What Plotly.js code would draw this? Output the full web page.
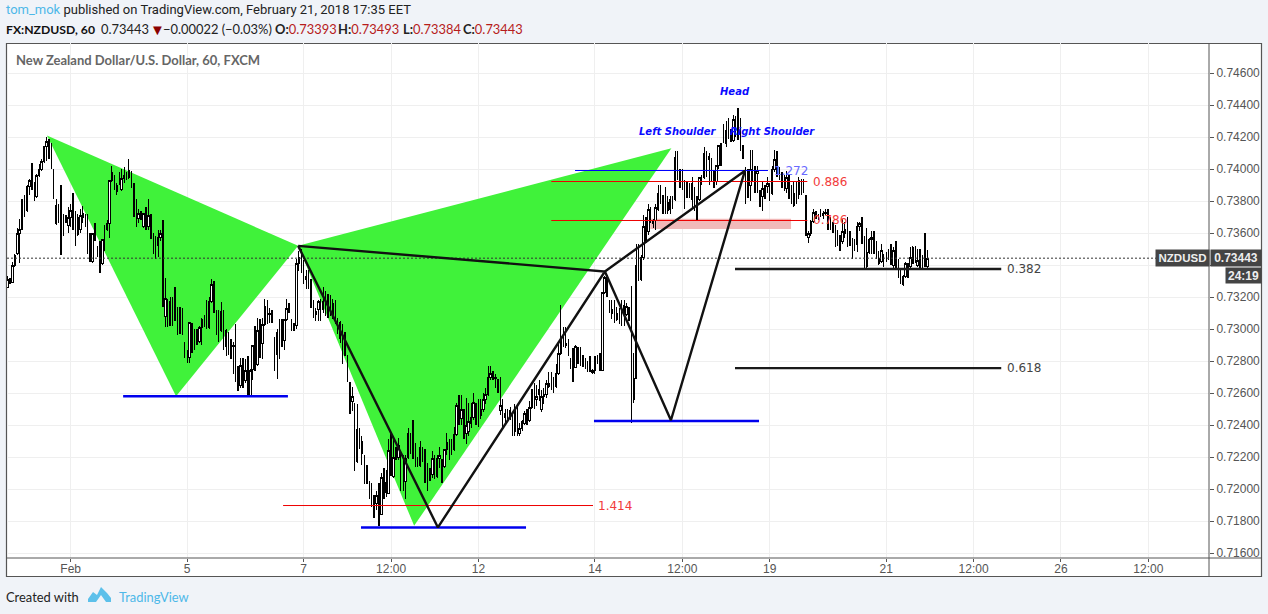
<!DOCTYPE html>
<html>
<head>
<meta charset="utf-8">
<script src="https://cdn.plot.ly/plotly-3.0.1.min.js"></script>
<style>html,body{margin:0;padding:0;background:#f0f3f8;overflow:hidden}#c{width:1268px;height:614px}#logo{position:absolute;left:87px;top:586px}
.ohlclayer path,.boxlayer path{shape-rendering:crispEdges}</style>
</head>
<body>
<div id="c"></div>
<svg id="logo" width="25" height="18" viewBox="0 0 25 18"><path d="M1 16 L1 13 L6 6 L10 9 L14 1 L20 7 L24 12 L24 16 L19 16 L14 9 L9 16 Z" fill="#5cc0ea"/></svg>
<script>
// Hourly bars, prices in 1/10000 (pips)
const opens=[
7326,7331,7329,7340,7347,7360,7362,7381,7374,7389,
7393,7388,7383,7396,7400,7405,7414,7417,7410,7400,
7366,7377,7375,7370,7370,7365,7370,7374,7364,7359,
7362,7370,7372,7366,7358,7342,7360,7351,7350,7341,
7360,7362,7366,7393,7396,7386,7398,7387,7394,7396,
7395,7399,7389,7372,7369,7372,7364,7372,7364,7371,
7358,7350,7352,7357,7360,7308,7319,7302,7317,7312,
7308,7310,7309,7292,7284,7282,7304,7298,7298,7292,
7301,7306,7304,7301,7317,7328,7312,7308,7299,7311,
7289,7298,7289,7289,7293,7276,7265,7276,7268,7276,
7258,7275,7290,7278,7299,7291,7303,7314,7309,7310,
7295,7284,7298,7300,7293,7306,7313,7306,7304,7302,
7341,7345,7340,7331,7337,7331,7315,7309,7312,7317,
7312,7322,7320,7320,7307,7316,7306,7294,7303,7296,
7284,7267,7255,7254,7217,7237,7222,7221,7215,7205,
7204,7196,7191,7204,7184,7213,7198,7197,7224,7208,
7226,7220,7222,7220,7205,7220,7235,7243,7229,7220,
7215,7226,7225,7216,7213,7209,7219,7208,7219,7219,
7214,7225,7229,7229,7225,7234,7259,7244,7250,7235,
7236,7241,7245,7254,7256,7246,7250,7256,7259,7270,
7274,7269,7269,7249,7252,7245,7247,7245,7247,7236,
7253,7235,7238,7241,7247,7243,7251,7266,7256,7259,
7250,7258,7259,7264,7273,7269,7264,7272,7285,7301,
7290,7294,7282,7288,7276,7289,7289,7283,7282,7280,
7283,7273,7274,7283,7285,7274,7323,7334,7318,7310,
7318,7306,7310,7318,7309,7309,7314,7327,7256,7269,
7345,7331,7345,7364,7361,7375,7366,7368,7375,7384,
7380,7389,7374,7375,7382,7381,7411,7400,7400,7393,
7392,7391,7381,7389,7383,7381,7395,7395,7410,7406,
7407,7398,7392,7402,7415,7428,7416,7432,7424,7418,
7431,7438,7432,7415,7401,7399,7390,7412,7402,7397,
7385,7383,7388,7389,7391,7385,7400,7411,7400,7398,
7396,7388,7397,7388,7377,7392,7384,7394,7390,7384,
7357,7360,7367,7374,7372,7375,7371,7372,7375,7370,
7366,7365,7361,7359,7355,7360,7370,7360,7357,7356,
7353,7364,7370,7358,7339,7348,7356,7361,7355,7341,
7342,7347,7345,7348,7353,7340,7355,7344,7337,7328,
7333,7341,7339,7341,7352,7340,7350,7341,7349,7339.3];
const highs=[
7333,7332,7342,7347,7363,7369,7381,7384,7390,7394,
7404,7392,7397,7403,7406,7414,7420,7419,7416,7400,
7381,7378,7390,7372,7371,7376,7378,7385,7374,7372,
7375,7377,7372,7372,7360,7360,7366,7352,7355,7356,
7365,7368,7393,7402,7396,7391,7398,7400,7401,7398,
7406,7399,7391,7381,7375,7374,7372,7376,7381,7372,
7360,7358,7362,7362,7368,7332,7319,7320,7320,7326,
7314,7314,7313,7292,7287,7304,7304,7300,7300,7302,
7307,7309,7318,7320,7331,7330,7312,7312,7317,7312,
7300,7298,7294,7292,7303,7277,7282,7282,7281,7283,
7275,7290,7302,7307,7306,7307,7319,7318,7313,7312,
7295,7300,7306,7306,7306,7319,7316,7306,7304,7344,
7349,7350,7343,7337,7337,7331,7318,7313,7318,7319,
7326,7324,7322,7321,7319,7318,7307,7305,7303,7298,
7284,7267,7264,7254,7253,7238,7233,7221,7215,7205,
7204,7196,7199,7204,7210,7213,7212,7231,7235,7233,
7226,7232,7222,7221,7221,7238,7235,7243,7229,7220,
7230,7226,7225,7216,7213,7224,7221,7221,7226,7219,
7225,7235,7231,7231,7239,7254,7259,7259,7250,7257,
7254,7254,7260,7254,7256,7256,7260,7263,7277,7277,
7274,7272,7269,7270,7256,7250,7250,7251,7247,7253,
7253,7241,7243,7249,7250,7255,7262,7266,7265,7268,
7262,7263,7268,7273,7273,7270,7278,7291,7315,7301,
7301,7294,7282,7288,7290,7289,7289,7284,7282,7280,
7283,7275,7283,7284,7285,7323,7333,7334,7318,7318,
7318,7314,7313,7318,7318,7316,7314,7327,7285,7353,
7353,7346,7371,7370,7378,7376,7369,7378,7390,7390,
7384,7389,7383,7383,7383,7411,7411,7400,7400,7393,
7392,7391,7395,7389,7383,7395,7396,7414,7411,7410,
7407,7399,7402,7415,7416,7428,7430,7432,7425,7434,
7433,7438,7432,7415,7401,7400,7412,7412,7402,7402,
7387,7392,7390,7395,7391,7402,7412,7411,7401,7398,
7396,7399,7397,7390,7392,7392,7395,7394,7394,7384,
7361,7368,7375,7374,7372,7375,7374,7375,7375,7370,
7367,7365,7362,7359,7369,7367,7370,7361,7357,7356,
7367,7367,7370,7358,7363,7357,7361,7361,7355,7349,
7353,7347,7348,7350,7353,7351,7355,7344,7337,7334,
7342,7341,7351,7352,7352,7350,7350,7346,7360,7349.3];
const lows=[
7326,7328,7329,7339,7346,7341,7362,7370,7373,7384,
7387,7380,7382,7395,7399,7404,7405,7406,7400,7381,
7365,7366,7346,7358,7366,7360,7364,7362,7352,7358,
7360,7366,7364,7347,7342,7341,7355,7345,7335,7340,
7349,7361,7357,7392,7387,7384,7390,7386,7391,7393,
7394,7388,7370,7364,7366,7368,7363,7362,7362,7356,
7347,7344,7345,7355,7314,7301,7301,7302,7302,7305,
7296,7297,7296,7282,7279,7279,7285,7287,7290,7291,
7290,7301,7300,7300,7316,7310,7296,7292,7298,7287,
7283,7284,7281,7272,7267,7261,7263,7263,7266,7258,
7258,7268,7274,7277,7282,7281,7302,7303,7304,7304,
7274,7269,7281,7289,7287,7305,7310,7299,7299,7300,
7336,7335,7328,7325,7325,7313,7307,7305,7305,7305,
7310,7308,7307,7308,7306,7303,7297,7291,7278,7283,
7267,7247,7249,7211,7216,7225,7215,7203,7203,7194,
7189,7182,7187,7177,7184,7194,7195,7197,7208,7207,
7218,7218,7199,7199,7194,7219,7222,7219,7214,7214,
7214,7217,7204,7199,7205,7207,7206,7207,7213,7204,
7213,7221,7218,7221,7224,7233,7240,7240,7231,7228,
7233,7238,7243,7240,7239,7244,7248,7253,7258,7268,
7268,7263,7260,7246,7239,7240,7244,7243,7233,7233,
7233,7233,7236,7240,7240,7242,7250,7250,7252,7255,
7248,7253,7257,7263,7262,7260,7263,7271,7284,7289,
7288,7283,7275,7267,7276,7278,7277,7276,7275,7273,
7273,7272,7272,7278,7274,7274,7322,7320,7310,7306,
7304,7305,7303,7302,7302,7308,7305,7241,7254,7269,
7330,7330,7343,7354,7359,7366,7363,7362,7374,7378,
7372,7372,7372,7372,7375,7380,7393,7388,7387,7375,
7382,7382,7375,7374,7368,7380,7390,7394,7395,7390,
7392,7388,7390,7400,7402,7416,7414,7419,7417,7417,
7420,7418,7411,7406,7378,7382,7380,7392,7385,7385,
7376,7374,7381,7385,7380,7384,7398,7395,7393,7388,
7386,7385,7381,7378,7376,7378,7381,7384,7385,7358,
7354,7358,7366,7369,7368,7370,7369,7371,7362,7362,
7360,7351,7352,7349,7353,7357,7351,7352,7344,7349,
7348,7361,7353,7337,7338,7347,7347,7347,7344,7340,
7341,7339,7342,7343,7340,7337,7337,7332,7328,7327,
7332,7332,7338,7341,7341,7339,7338,7338,7339,7338.4];
const closes=[
7331,7329,7340,7346,7360,7362,7381,7375,7389,7393,
7388,7383,7396,7400,7405,7414,7417,7410,7401,7382,
7377,7367,7350,7360,7368,7370,7374,7364,7354,7370,
7371,7372,7366,7350,7344,7360,7357,7347,7338,7356,
7352,7366,7393,7398,7390,7390,7392,7394,7396,7394,
7399,7389,7372,7367,7372,7369,7372,7365,7371,7358,
7350,7346,7357,7360,7316,7319,7308,7317,7303,7306,
7298,7299,7298,7284,7281,7304,7287,7289,7292,7301,
7306,7302,7301,7317,7328,7312,7298,7293,7311,7296,
7299,7288,7285,7290,7270,7264,7277,7265,7274,7259,
7274,7290,7276,7299,7286,7303,7314,7306,7310,7306,
7276,7298,7283,7293,7306,7313,7311,7301,7300,7341,
7345,7338,7330,7333,7328,7315,7309,7311,7317,7312,
7317,7310,7310,7311,7316,7305,7298,7304,7280,7285,
7269,7249,7258,7213,7237,7226,7230,7205,7205,7196,
7191,7184,7196,7180,7207,7196,7204,7224,7210,7220,
7220,7227,7201,7202,7219,7235,7224,7221,7216,7215,
7226,7218,7206,7201,7207,7219,7208,7219,7221,7206,
7225,7229,7222,7224,7234,7252,7244,7250,7233,7240,
7242,7245,7254,7246,7241,7250,7256,7259,7270,7272,
7270,7270,7262,7252,7241,7247,7245,7249,7235,7249,
7235,7238,7242,7247,7243,7251,7262,7252,7258,7262,
7258,7259,7266,7266,7264,7263,7272,7285,7295,7291,
7291,7285,7277,7270,7289,7280,7279,7278,7277,7275,
7275,7274,7283,7279,7276,7323,7332,7322,7311,7312,
7306,7310,7305,7309,7315,7314,7306,7256,7269,7340,
7333,7345,7364,7356,7375,7368,7368,7376,7385,7380,
7374,7374,7379,7381,7377,7407,7395,7390,7389,7377,
7384,7384,7391,7376,7370,7395,7391,7410,7398,7408,
7394,7392,7402,7415,7404,7418,7424,7421,7418,7431,
7422,7420,7413,7408,7380,7390,7400,7394,7395,7399,
7378,7388,7382,7391,7382,7400,7406,7397,7395,7390,
7389,7395,7383,7380,7385,7380,7393,7386,7387,7359,
7360,7367,7373,7370,7369,7371,7372,7373,7364,7364,
7362,7353,7354,7351,7361,7362,7353,7355,7346,7350,
7364,7366,7355,7339,7348,7356,7357,7349,7346,7344,
7349,7341,7343,7345,7342,7349,7339,7334,7329,7333,
7341,7334,7345,7351,7343,7343,7340,7339,7341,7344.3];

// Time axis
const timeTickBars=[26,74,122,158,194,242,278,314,362,398,434,470];
const timeTickLabels=['Feb','5','7','12:00','12','14','12:00','19','21','12:00','26','12:00'];
// Price axis (0.73400 sits behind the last-price badges)
const priceTicks=[0.716,0.718,0.72,0.722,0.724,0.726,0.728,0.73,0.732,0.734,0.736,0.738,0.74,0.742,0.744,0.746];
const priceTickLabels=['0.71600','0.71800','0.72000','0.72200','0.72400','0.72600','0.72800','0.73000','0.73200','','0.73600','0.73800','0.74000','0.74200','0.74400','0.74600'];

// Drawings: bar positions and prices (pips)
const bearBatLeftBars=[16.2,119.7,69.4];
const bearBatLeftPrices=[7421,7352,7258];
const bearBatRightBars=[119.7,273.5,167.5];
const bearBatRightPrices=[7352,7413,7177];
const zigzagBars=[119.7,177.3,246.1,119.7,null,246.1,273.3,303.8,246.1];
const zigzagPrices=[7352,7176,7336,7352,null,7336,7243,7399,7336];
const blueLevels=[[47.6,115.5,7258],[145.6,213.6,7176],[241.6,309.6,7242.5]];
const blueThinLevel=[233.8,313.3,7399.1];
const redLevels=[[224,329.5,7392.23],[224,329.5,7367.86],[113.5,241.2,7189.7]];
const blackLevels=[[299.7,409.4,7337.5],[299.7,409.4,7275.6]];
const pinkZone=[264.8,322.8,7362.5,7369];
const lastPrice=0.73443;

const P=v=>v==null?null:v/10000;
const all=opens.map((_,i)=>i);
const up=all.filter(i=>closes[i]>=opens[i]);
const dn=all.filter(i=>closes[i]<opens[i]);
const pick=(arr,idx)=>idx.map(i=>P(arr[i]));

// Pixel helpers for page furniture
const L=7,R=1209,T=43,B=558;
const px=x=>(x-L)/(R-L), py=y=>1-(y-T)/(B-T);

function closedPath(xs,ys){return 'M'+xs.map((x,i)=>x+','+P(ys[i])).join(' L')+' Z';}
function lvl(a,color,width){return {x:[a[0],a[1]],y:[P(a[2]),P(a[2])],type:'scatter',mode:'lines',line:{color:color,width:width},hoverinfo:'skip',showlegend:false};}

const traces=[
 {type:'candlestick',x:up,open:pick(opens,up),high:pick(highs,up),low:pick(lows,up),close:pick(closes,up),
  increasing:{line:{color:'#000',width:1},fillcolor:'#fff'},decreasing:{line:{color:'#000',width:1},fillcolor:'#000'},
  whiskerwidth:0,showlegend:false,hoverinfo:'skip'},
 {type:'ohlc',x:dn,open:pick(opens,dn),high:pick(highs,dn),low:pick(lows,dn),close:pick(closes,dn),tickwidth:0,
  increasing:{line:{color:'#000',width:1.4}},decreasing:{line:{color:'#000',width:1.4}},showlegend:false,hoverinfo:'skip'},
 {x:[-0.25,495],y:[lastPrice,lastPrice],type:'scatter',mode:'lines',line:{color:'#333',width:1,dash:'2px,2px'},hoverinfo:'skip',showlegend:false},
 lvl(blueThinLevel,'#0000ff',1),
 ...redLevels.map(a=>lvl(a,'#ee0000',1)),
 ...blueLevels.map(a=>lvl(a,'#0000ee',2.5)),
 ...blackLevels.map(a=>lvl(a,'#1a1a1a',2.4)),
 {x:zigzagBars,y:zigzagPrices.map(P),type:'scatter',mode:'lines',line:{color:'#111',width:2.4},hoverinfo:'skip',showlegend:false,connectgaps:false}
];

const shapes=[
 {type:'rect',xref:'paper',yref:'paper',x0:px(6.5),x1:px(1261.5),y0:py(43.5),y1:py(576.5),layer:'below',fillcolor:'#fff',line:{color:'#555',width:1.2}},
 {type:'line',xref:'paper',yref:'paper',x0:px(1209),x1:px(1209),y0:py(43),y1:py(577),layer:'above',line:{color:'#555',width:1}},
 {type:'line',xref:'paper',yref:'paper',x0:px(6),x1:px(1262),y0:py(558),y1:py(558),layer:'above',line:{color:'#555',width:1}},
 {type:'path',path:closedPath(bearBatLeftBars,bearBatLeftPrices),xref:'x',yref:'y',layer:'between',fillcolor:'#40f23a',line:{width:0}},
 {type:'path',path:closedPath(bearBatRightBars,bearBatRightPrices),xref:'x',yref:'y',layer:'between',fillcolor:'#40f23a',line:{width:0}},
 {type:'rect',xref:'x',yref:'y',x0:pinkZone[0],x1:pinkZone[1],y0:P(pinkZone[2]),y1:P(pinkZone[3]),layer:'between',fillcolor:'#f1b9b9',line:{width:0}}
];

const ui='Lato,sans-serif', dv='"DejaVu Sans",sans-serif', ar='"Liberation Sans",sans-serif';
function txt(text,x,y,o){return Object.assign({text:text,xref:'paper',yref:'paper',x:px(x),y:py(y),xanchor:'left',yanchor:'middle',showarrow:false,borderpad:0,
  font:{family:ui,size:12.9,color:'#222'}},o||{});}
function dtxt(text,bar,pips,color,o){return Object.assign({text:text,xref:'x',yref:'y',x:bar,y:P(pips),xanchor:'left',yanchor:'middle',showarrow:false,borderpad:0,
  font:{family:dv,size:12,color:color}},o||{});}
const red='#b71c1c';
const ohlcLabel=(k,v)=>'<b>'+k+':</b><span style="color:'+red+'">'+v+'</span>';
const annotations=[
 txt('<span style="color:#4db8e8">tom_mok</span> published on TradingView.com, February 21, 2018 17:35 EET',5,10,{font:{family:'Roboto,sans-serif',size:13,color:'#222'}}),
 txt('<b>FX:NZDUSD, 60</b>',5,29,{font:{family:ui,size:12.2,color:'#111'}}),
 txt('0.73443',100,29),
 txt('▼',149,29,{font:{family:ui,size:15,color:'#8b0000'}}),
 txt('−0.00022 (−0.03%)',162,29),
 txt(ohlcLabel('O','0.73393'),274,29),
 txt(ohlcLabel('H','0.73493'),337,29),
 txt(ohlcLabel('L','0.73384'),402,29),
 txt(ohlcLabel('C','0.73443'),462,29),
 txt('<b>New Zealand Dollar/U.S. Dollar, 60, FXCM</b>',15,60,{font:{family:ui,size:13,color:'#666'}}),
 txt('Created with',5,597),
 txt('TradingView',118,597,{font:{family:ui,size:12.9,color:'#4db8e8'}}),
 txt('<b>NZDUSD</b>',1182,258,{xanchor:'center',bgcolor:'#444',width:53,height:16,align:'center',font:{family:ar,size:11.5,color:'#eee'}}),
 txt('<b>0.73443</b>',1236,258,{xanchor:'center',bgcolor:'#444',width:50,height:16,align:'center',font:{family:ar,size:12,color:'#eee'}}),
 txt('<b>24:19</b>',1243.5,275,{xanchor:'center',bgcolor:'#444',width:35,height:15,align:'center',font:{family:ar,size:12,color:'#eee'}}),
 dtxt('0.382',411.4,7337.5,'#444'),
 dtxt('0.618',411.4,7275.6,'#444'),
 dtxt('1.414',242.9,7189.7,'#f23b3b'),
 dtxt('0.886',331.5,7392.2,'#f23b3b'),
 dtxt('0.786',331.5,7367.9,'#f23b3b'),
 dtxt('1.272',315.4,7399.1,'#6a6aff'),
 dtxt('<b><i>Head</i></b>',299.8,7448.5,'#0a0aff',{xanchor:'center',font:{family:dv,size:10,color:'#0a0aff'}}),
 dtxt('<b><i>Left Shoulder</i></b>',276,7423.5,'#0a0aff',{xanchor:'center',font:{family:dv,size:10,color:'#0a0aff'}}),
 dtxt('<b><i>Right Shoulder</i></b>',315,7423.5,'#0a0aff',{xanchor:'center',font:{family:dv,size:10,color:'#0a0aff'}})
];

const layout={
 width:1268,height:614,margin:{l:L,r:1268-R,t:T,b:614-B,pad:0},
 paper_bgcolor:'#f0f3f8',plot_bgcolor:'rgba(0,0,0,0)',showlegend:false,dragmode:false,boxgap:0.1,
 xaxis:{type:'linear',range:[-0.25,495],tickmode:'array',tickvals:timeTickBars,ticktext:timeTickLabels,
   rangeslider:{visible:false},showgrid:true,gridcolor:'#efefef',gridwidth:1,zeroline:false,showline:false,
   ticks:'outside',ticklen:3,tickcolor:'#555',ticklabelstandoff:-3,tickfont:{family:ar,size:12,color:'#555'}},
 yaxis:{type:'linear',side:'right',range:[0.71569,0.74788],tickmode:'array',tickvals:priceTicks,ticktext:priceTickLabels,
   showgrid:true,gridcolor:'#efefef',gridwidth:1,zeroline:false,showline:false,
   ticks:'outside',ticklen:4,tickcolor:'#555',tickfont:{family:ar,size:12,color:'#555'}},
 shapes:shapes,annotations:annotations
};
Plotly.newPlot('c',traces,layout,{displayModeBar:false,staticPlot:true});
</script>
</body>
</html>
